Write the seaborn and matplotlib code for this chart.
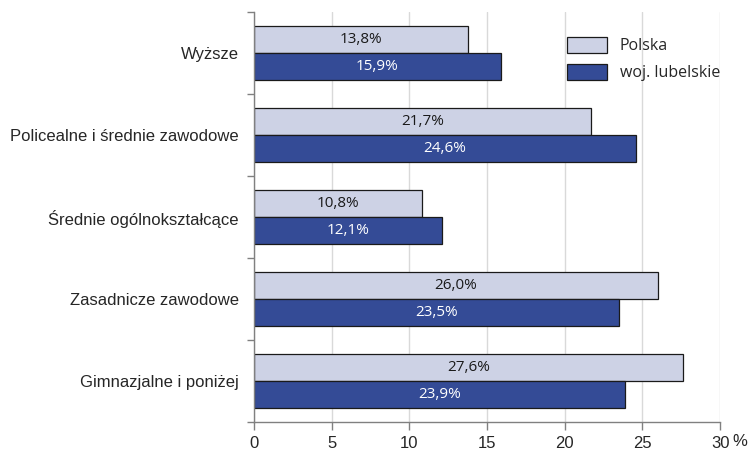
import numpy as np
import pandas as pd
import matplotlib
matplotlib.use("Agg")
import matplotlib.pyplot as plt
import seaborn as sns

categories = ["Wyższe", "Policealne i średnie zawodowe", "Średnie ogólnokształcące",
              "Zasadnicze zawodowe", "Gimnazjalne i poniżej"]
series = ["Polska", "woj. lubelskie"]
polska = [13.8, 21.7, 10.8, 26.0, 27.6]
lubelskie = [15.9, 24.6, 12.1, 23.5, 23.9]
colors = ["#cdd2e5", "#344b96"]

df = pd.DataFrame({
    "kat": categories * 2,
    "seria": [series[0]] * 5 + [series[1]] * 5,
    "val": polska + lubelskie,
})

sns.set_style("white")
plt.rcParams["font.family"] = ["Liberation Sans", "DejaVu Sans"]

fig = plt.figure(figsize=(7.51, 4.5), dpi=100)
ax = fig.add_axes([0.338, 0.062, 0.621, 0.911])

sns.barplot(data=df, y="kat", x="val", hue="seria", orient="h", palette=colors,
            saturation=1, width=0.66, edgecolor="#1a1a1a", linewidth=0.9,
            ax=ax, legend=True)

# value labels
for cont, txtcol in zip(ax.containers, ["#1a1a1a", "white"]):
    labels = [f"{v:.1f}".replace(".", ",") + "%" for v in cont.datavalues]
    ax.bar_label(cont, labels=labels, label_type="center", color=txtcol,
                 fontsize=11, family=["Open Sans", "DejaVu Sans"])

ax.set_xlim(0, 30)
ax.set_ylim(4.5, -0.5)
ax.set_xticks(np.arange(0, 31, 5))
ax.xaxis.grid(True, color="#d9d9d9", linewidth=1)
ax.set_axisbelow(True)
ax.set_xlabel("")
ax.set_ylabel("")

ax.set_yticks(range(len(categories)))
ax.set_yticklabels(categories, fontsize=12)
ax.set_yticks(np.arange(-0.5, 5, 1), minor=True)
ax.tick_params(axis="y", which="major", left=False, length=0, pad=11)
ax.tick_params(axis="y", which="minor", left=True, length=5, width=1,
               color="#808080", direction="out")
ax.tick_params(axis="x", bottom=True, length=6, width=1, color="#808080",
               direction="out", labelsize=12, pad=4)

for s in ["top", "right"]:
    ax.spines[s].set_visible(False)
for s in ["left", "bottom"]:
    ax.spines[s].set_color("#808080")
    ax.spines[s].set_linewidth(1)

ax.text(1.027, -0.028, "%", transform=ax.transAxes, ha="left", va="top", fontsize=12)

leg = ax.legend(loc="upper left", bbox_to_anchor=(0.672, 0.94), frameon=False,
                borderpad=0, borderaxespad=0,
                handlelength=2.5, handleheight=1.2, labelspacing=0.6, handletextpad=0.8,
                prop={"family": ["Open Sans", "DejaVu Sans"], "size": 11.5})

fig.savefig("out.png", dpi=100)
